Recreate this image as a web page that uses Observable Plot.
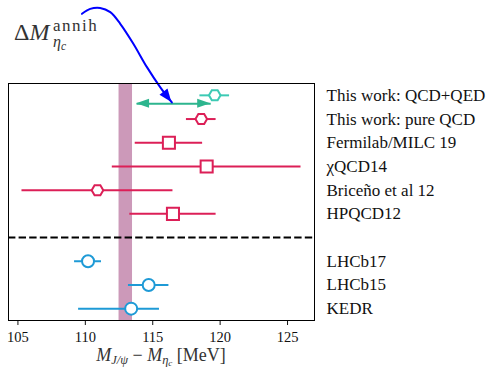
<!DOCTYPE html>
<html><head><meta charset="utf-8">
<script src="https://cdn.jsdelivr.net/npm/d3@7"></script>
<script src="https://cdn.jsdelivr.net/npm/@observablehq/plot@0.6"></script>
<style>
body{margin:0;background:#fff;}
#chart svg, #chart svg text{font-family:"Liberation Serif","DejaVu Serif",serif;}
#chart svg [aria-label="y-axis tick label"]{font-size:17px;}
</style>
</head><body><div id="chart"></div>
<script>
// ---- data ----
const labels = ["This work: QCD+QED","This work: pure QCD","Fermilab/MILC 19","\u03C7QCD14","Brice\u00F1o et al 12","HPQCD12","LHCb17","LHCb15","KEDR"];
const rows = [0,1,2,3,4,5,7,8,9];
const centers = [119.6,118.6,116.2,119.0,110.9,116.5,110.2,114.7,113.4];
const errMinus = [1.1,1.1,2.5,7.0,5.6,3.2,1.0,1.5,3.9];
const errPlus  = [1.1,1.1,2.5,7.0,5.6,3.2,1.0,1.5,2.1];
const groups = ["qed","qcd","qcd","qcd","qcd","qcd","exp","exp","exp"];
const shapes = ["hexagon","hexagon","square","square","hexagon","square","circle","circle","circle"];
const separatorRow = [6];
const expBand = [[112.5, 113.5]];
const xTicks = [105,110,115,120,125];
const annihArrow = [{x1: 113.8, x2: 119.3, y: 0.35}];
const curveX = [109.75,110.36,111.10,111.85,112.59,113.55,114.57,115.55,116.42];
const curveY = [-3.44,-3.65,-3.69,-3.51,-3.02,-2.19,-1.19,-0.35,0.30];

// ---- styles ----
const palette = {qed: "#3ccab4", qcd: "#dc1f57", exp: "#1e9ad6"};
const arrowGreen = "#2db58e";
const bandColor = "#cc99b9";
const curveBlue = "#0000ff";
const serif = "'Liberation Serif', 'DejaVu Serif', serif";

const table = rows.map((r, i) => ({row: r, c: centers[i], lo: centers[i] - errMinus[i], hi: centers[i] + errPlus[i], group: groups[i], shape: shapes[i]}));
const curve = curveX.map((x, i) => ({x, y: curveY[i]}));

const hexFlat = {
  draw(ctx, size) {
    const R = Math.sqrt(size / Math.PI);
    for (let k = 0; k < 6; ++k) {
      const a = k * Math.PI / 3;
      const px = R * Math.cos(a), py = R * Math.sin(a);
      if (k === 0) ctx.moveTo(px, py); else ctx.lineTo(px, py);
    }
    ctx.closePath();
  }
};
const symbolFor = {hexagon: hexFlat, square: "square", circle: "circle"};
const radiusFor = {hexagon: 5.8, square: 6.8, circle: 6};

const dotMarks = Object.keys(symbolFor).map(s => Plot.dot(table.filter(d => d.shape === s), {
  x: "c", y: "row", symbol: symbolFor[s], r: radiusFor[s],
  fill: "white", stroke: d => palette[d.group], strokeWidth: 2
}));

const plot = Plot.plot({
  width: 494, height: 369,
  marginLeft: 8, marginRight: 180, marginTop: 83, marginBottom: 49,
  style: {fontFamily: serif, fontSize: "14.5px", background: "white", color: "#111", overflow: "visible"},
  x: {domain: [104.3, 127.0], label: null},
  y: {domain: [-0.5, 9.5], reverse: true, label: null},
  marks: [
    Plot.rect(expBand, {x1: d => d[0], x2: d => d[1], fill: bandColor}),
    Plot.ruleY(separatorRow, {stroke: "black", strokeWidth: 2, strokeDasharray: "7.4,3.2"}),
    Plot.ruleY(table, {y: "row", x1: "lo", x2: "hi", stroke: d => palette[d.group], strokeWidth: 2}),
    ...dotMarks,
    Plot.link(annihArrow, {x1: "x1", x2: "x2", y1: "y", y2: "y", stroke: arrowGreen, strokeWidth: 2}),
    Plot.line(curve, {x: "x", y: "y", curve: "catmull-rom", stroke: curveBlue, strokeWidth: 2}),
    Plot.axisX({ticks: xTicks, tickSize: 5, tickPadding: 6, label: null}),
    Plot.axisY({anchor: "right", ticks: rows, tickFormat: r => labels[rows.indexOf(r)], tickSize: 0, tickPadding: 12, label: null}),
    Plot.frame({stroke: "black", strokeWidth: 1})
  ]
});
document.getElementById("chart").appendChild(plot);

// ---- annotations via the plot's scales ----
const sx = plot.scale("x"), sy = plot.scale("y");
const X = v => sx.apply(v), Y = v => sy.apply(v);
const svg = d3.select(plot);
function head(tx, ty, ang, len, half, color) {
  const c = Math.cos(ang), s = Math.sin(ang);
  const bx = tx - len * c, by = ty - len * s;
  svg.append("path")
    .attr("d", `M${tx},${ty}L${bx - half * s},${by + half * c}L${bx + half * s},${by - half * c}Z`)
    .attr("fill", color);
}
annihArrow.forEach(a => {
  head(X(a.x1), Y(a.y), Math.PI, 13, 4.5, arrowGreen);
  head(X(a.x2), Y(a.y), 0, 13, 4.5, arrowGreen);
});
{
  const n = curve.length;
  const x1 = X(curve[n - 2].x), y1 = Y(curve[n - 2].y), x2 = X(curve[n - 1].x), y2 = Y(curve[n - 1].y);
  head(x2, y2, Math.atan2(y2 - y1, x2 - x1), 13, 5, curveBlue);
}

// title: ΔM^annih_{η_c}
const t = svg.append("g").attr("font-family", serif).attr("fill", "#333").attr("text-anchor", "start");
const t1 = t.append("text").attr("x", 14).attr("y", 40).attr("font-size", 24);
t1.append("tspan").text("\u0394");
t1.append("tspan").attr("font-style", "italic").text("M");
t.append("text").attr("x", 53).attr("y", 31).attr("font-size", 17).attr("letter-spacing", 1.5).text("annih");
const t3 = t.append("text").attr("x", 53).attr("y", 47).attr("font-size", 16).attr("font-style", "italic");
t3.append("tspan").text("\u03B7");
t3.append("tspan").attr("font-size", 11.5).attr("dy", 3).text("c");

// x-axis label
const xd = sx.domain;
const xl = svg.append("text").attr("x", X((xd[0] + xd[xd.length - 1]) / 2)).attr("y", 361)
  .attr("text-anchor", "middle").attr("font-family", serif).attr("font-size", 18).attr("fill", "#333");
xl.append("tspan").attr("font-style", "italic").text("M");
xl.append("tspan").attr("font-style", "italic").attr("font-size", 12.5).attr("dy", 3).text("J/\u03C8");
xl.append("tspan").attr("dy", -3).text("\u00A0\u2212\u00A0");
xl.append("tspan").attr("font-style", "italic").text("M");
xl.append("tspan").attr("font-style", "italic").attr("font-size", 12.5).attr("dy", 3).text("\u03B7");
xl.append("tspan").attr("font-style", "italic").attr("font-size", 9).attr("dy", 2).text("c");
xl.append("tspan").attr("dy", -5).text("\u00A0[MeV]");
</script>
</body></html>
